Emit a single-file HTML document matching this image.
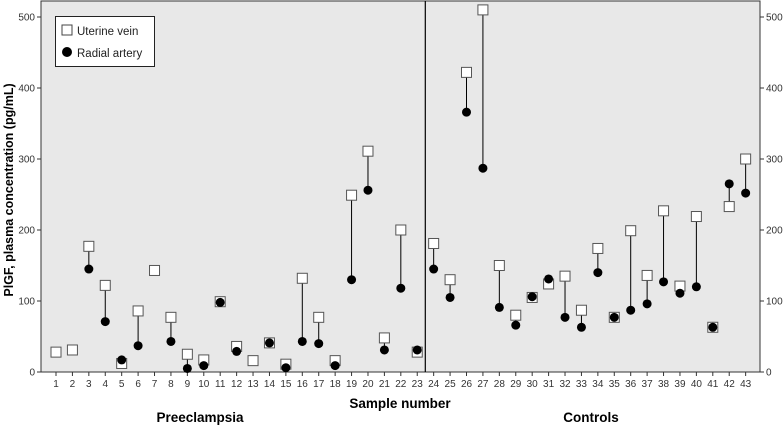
<!DOCTYPE html><html><head><meta charset="utf-8"><style>body{margin:0;background:#fff}svg{display:block;font-family:"Liberation Sans",Arial,sans-serif}</style></head><body>
<svg width="784" height="426" viewBox="0 0 784 426" xmlns="http://www.w3.org/2000/svg">
<rect x="41" y="1" width="719" height="371" fill="#e8e8e8" stroke="#333" stroke-width="1"/>
<line x1="425.3" y1="1" x2="425.3" y2="372" stroke="#000" stroke-width="1.2"/>
<g id="g"></g>
<rect x="55.5" y="16.5" width="99" height="50" fill="#fff" stroke="#222"/>
<rect x="62" y="25" width="10" height="10" fill="#fff" stroke="#444"/>
<circle cx="67" cy="52" r="5" fill="#000"/>
<text x="77" y="35" font-size="11.5" fill="#222">Uterine vein</text>
<text x="77" y="57" font-size="11.5" fill="#222">Radial artery</text>
<text transform="translate(13,190) rotate(-90)" text-anchor="middle" font-size="12.5" font-weight="bold">PlGF, plasma concentration (pg/mL)</text>
<text x="400" y="408" text-anchor="middle" font-size="13.5" font-weight="bold">Sample number</text>
<text x="200" y="422" text-anchor="middle" font-size="13.5" font-weight="bold">Preeclampsia</text>
<text x="591" y="422" text-anchor="middle" font-size="13.5" font-weight="bold">Controls</text>
</svg>
<script>
var sq=[28,31,177,122,12,86,143,77,25,17,99,36,16,41,11,132,77,16,249,311,48,200,28,181,130,422,510,150,80,105,124,135,87,174,77,199,136,227,121,219,63,233,300];
var dt=[null,null,145,71,17,37,null,43,5,9,98,29,null,41,6,43,40,9,130,256,31,118,31,145,105,366,287,91,66,106,131,77,63,140,77,87,96,127,111,120,63,265,252];
var s=document.querySelector('svg'),g=document.getElementById('g'),h='';
function Y(v){return 372-v*0.71}
for(var i=0;i<43;i++){var x=56+i*16.42;
h+='<line x1="'+x+'" y1="372" x2="'+x+'" y2="376" stroke="#333"/>';
h+='<text x="'+x+'" y="387" text-anchor="middle" font-size="10" fill="#333">'+(i+1)+'</text>';
if(dt[i]!==null&&Math.abs(dt[i]-sq[i])>3)h+='<line x1="'+x+'" y1="'+Y(sq[i])+'" x2="'+x+'" y2="'+Y(dt[i])+'" stroke="#000" stroke-width="1"/>';}
for(var i=0;i<43;i++){var x=56+i*16.42;
h+='<rect x="'+(x-5)+'" y="'+(Y(sq[i])-5)+'" width="10" height="10" fill="#fff" stroke="#555"/>';}
for(var i=0;i<43;i++){var x=56+i*16.42;if(dt[i]!==null)h+='<circle cx="'+x+'" cy="'+Y(dt[i])+'" r="4.5" fill="#000"/>';}
for(var v=0;v<=500;v+=100){var y=Y(v);
h+='<line x1="37" y1="'+y+'" x2="41" y2="'+y+'" stroke="#333"/><text x="35" y="'+(y+3.5)+'" text-anchor="end" font-size="10" fill="#333">'+v+'</text>';
h+='<line x1="760" y1="'+y+'" x2="764" y2="'+y+'" stroke="#333"/><text x="766" y="'+(y+3.5)+'" font-size="10" fill="#333">'+v+'</text>';}
g.innerHTML=h;
</script>
</body></html>
